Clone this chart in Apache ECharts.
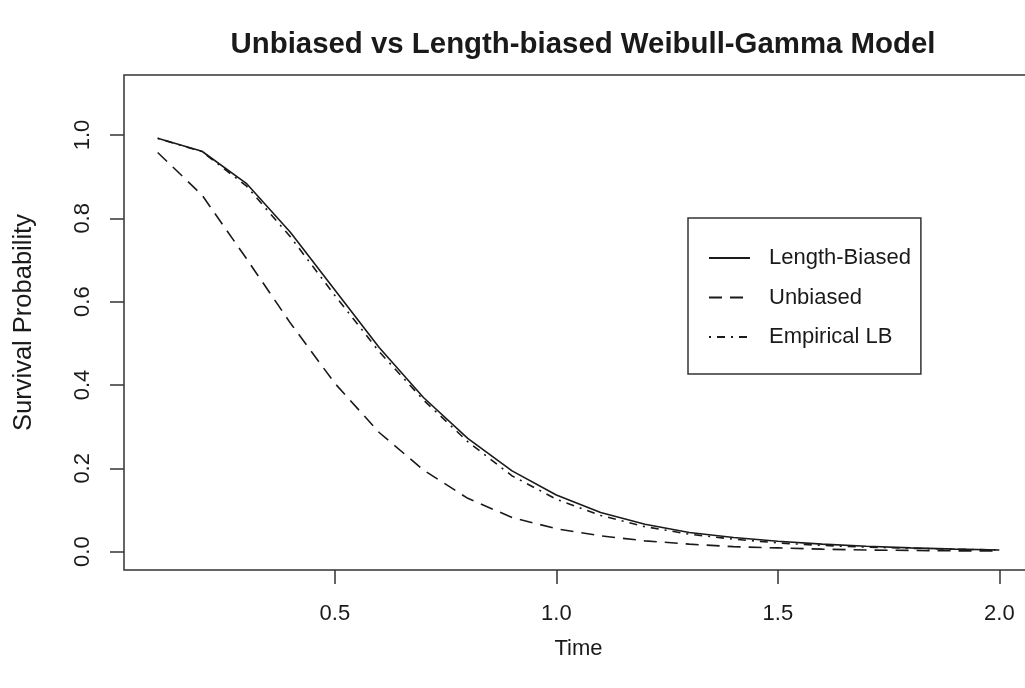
<!DOCTYPE html>
<html>
<head>
<meta charset="utf-8">
<script src="https://cdn.jsdelivr.net/npm/echarts@6/dist/echarts.min.js"></script>
<style>
  html, body { margin: 0; padding: 0; background: #fff; }
  #chart { width: 1025px; height: 688px; }
</style>
</head>
<body>
<div id="chart"></div>
<script>
// Survival curves evaluated on a 0.1 time grid
const times = [0.1, 0.2, 0.3, 0.4, 0.5, 0.6, 0.7, 0.8, 0.9, 1.0,
               1.1, 1.2, 1.3, 1.4, 1.5, 1.6, 1.7, 1.8, 1.9, 2.0];
const lengthBiased = [0.992, 0.961, 0.884, 0.766, 0.628, 0.490, 0.370, 0.272, 0.194, 0.136,
                      0.094, 0.066, 0.046, 0.034, 0.025, 0.018, 0.013, 0.009, 0.006, 0.004];
const unbiased = [0.958, 0.856, 0.704, 0.548, 0.404, 0.286, 0.196, 0.128, 0.082, 0.055,
                  0.038, 0.026, 0.018, 0.012, 0.009, 0.006, 0.004, 0.003, 0.002, 0.002];
const empiricalLB = [0.992, 0.960, 0.878, 0.755, 0.615, 0.480, 0.364, 0.264, 0.182, 0.126,
                     0.087, 0.060, 0.042, 0.030, 0.021, 0.015, 0.011, 0.008, 0.006, 0.004];
const xTicks = [0.5, 1.0, 1.5, 2.0];
const yTicks = [0.0, 0.2, 0.4, 0.6, 0.8, 1.0];
const seriesNames = ['Length-Biased', 'Unbiased', 'Empirical LB'];

const FONT = 'Liberation Sans, Arial, Helvetica, sans-serif';
const INK = '#1a1a1a';

function pairs(ys) { return times.map((t, i) => [t, ys[i]]); }

const chart = echarts.init(document.getElementById('chart'), null, { renderer: 'canvas' });

// axis ranges padded by 4% on each side, like base graphics
const xMin = 0.1 - 0.04 * 1.9, xMax = 2.0 + 0.04 * 1.9;
const yMin = 0 - 0.04 * 1.1, yMax = 1.1 + 0.04 * 1.1;

const tickStyle = { color: '#333', width: 1.5 };

const option = {
  backgroundColor: '#ffffff',
  animation: false,
  title: {
    text: 'Unbiased vs Length-biased Weibull-Gamma Model',
    left: 578, top: 25, textAlign: 'center',
    textStyle: { fontFamily: FONT, fontWeight: 'bold', fontSize: 29.4, color: INK }
  },
  grid: {
    left: 124, top: 75, width: 909, height: 495,
    outerBoundsMode: 'none', containLabel: false,
    show: true, borderColor: '#333', borderWidth: 1.5, backgroundColor: 'transparent'
  },
  legend: {
    data: seriesNames,
    orient: 'vertical',
    left: 688, top: 218,
    selectedMode: false,
    borderColor: '#333', borderWidth: 1.5,
    padding: [29, 10, 26, 20],
    itemWidth: 41, itemHeight: 20, itemGap: 17.5,
    itemStyle: { opacity: 0 },
    textStyle: { fontFamily: FONT, fontSize: 22, color: INK, padding: [0, 0, 0, 14] }
  },
  xAxis: {
    type: 'value', min: xMin, max: xMax, position: 'bottom',
    name: 'Time', nameLocation: 'middle', nameGap: 68,
    nameTextStyle: { fontFamily: FONT, fontSize: 22, color: INK },
    splitLine: { show: false },
    axisLine: { show: false, onZero: false },
    axisTick: { show: true, inside: false, length: 14, customValues: xTicks, lineStyle: tickStyle },
    axisLabel: { customValues: xTicks, margin: 33, fontFamily: FONT, fontSize: 22, color: INK,
                 formatter: v => v.toFixed(1) }
  },
  yAxis: {
    type: 'value', min: yMin, max: yMax, position: 'left',
    name: 'Survival Probability', nameLocation: 'middle', nameGap: 87, nameRotate: 90,
    nameTextStyle: { fontFamily: FONT, fontSize: 25.5, color: INK },
    splitLine: { show: false },
    axisLine: { show: false, onZero: false },
    axisTick: { show: true, inside: false, length: 14, customValues: yTicks, lineStyle: tickStyle },
    axisLabel: { customValues: yTicks, rotate: 90, margin: 30, fontFamily: FONT, fontSize: 22, color: INK,
                 formatter: v => v.toFixed(1) }
  },
  series: [
    {
      name: seriesNames[0], type: 'line', data: pairs(lengthBiased),
      showSymbol: false, symbol: 'none',
      lineStyle: { color: INK, width: 1.6, type: 'solid' },
      itemStyle: { color: INK }
    },
    {
      name: seriesNames[1], type: 'line', data: pairs(unbiased),
      showSymbol: false, symbol: 'none',
      lineStyle: { color: INK, width: 1.6, type: [13, 8] },
      itemStyle: { color: INK }
    },
    {
      name: seriesNames[2], type: 'line', data: pairs(empiricalLB),
      showSymbol: false, symbol: 'none',
      lineStyle: { color: INK, width: 1.6, type: [2, 6, 8, 6] },
      itemStyle: { color: INK }
    }
  ]
};

chart.setOption(option);
</script>
</body>
</html>
